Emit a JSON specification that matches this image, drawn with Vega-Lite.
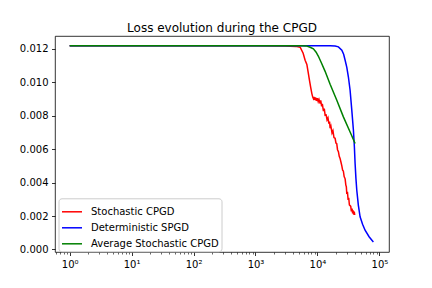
{
  "$schema": "https://vega.github.io/schema/vega-lite/v6.json",
  "width": 334,
  "height": 216,
  "autosize": "none",
  "padding": {"left": 55, "top": 36, "right": 43, "bottom": 36},
  "background": "white",
  "title": {"text": "Loss evolution during the CPGD", "font": "DejaVu Sans", "fontSize": 12, "fontWeight": "normal", "color": "black", "anchor": "middle", "offset": 6, "dy": 5},
  "config": {
    "view": {"stroke": "black", "strokeWidth": 0.8},
    "font": "DejaVu Sans"
  },
  "data": {"values": [
    {"series": "Stochastic CPGD", "x": 1, "y": 0.01217},
    {"series": "Stochastic CPGD", "x": 1000, "y": 0.01217},
    {"series": "Stochastic CPGD", "x": 3000, "y": 0.01216},
    {"series": "Stochastic CPGD", "x": 4500, "y": 0.01213},
    {"series": "Stochastic CPGD", "x": 5260, "y": 0.01208},
    {"series": "Stochastic CPGD", "x": 5880, "y": 0.01172},
    {"series": "Stochastic CPGD", "x": 6330, "y": 0.0113},
    {"series": "Stochastic CPGD", "x": 6750, "y": 0.01105},
    {"series": "Stochastic CPGD", "x": 7080, "y": 0.01059},
    {"series": "Stochastic CPGD", "x": 7430, "y": 0.01011},
    {"series": "Stochastic CPGD", "x": 7770, "y": 0.00969},
    {"series": "Stochastic CPGD", "x": 8130, "y": 0.00931},
    {"series": "Stochastic CPGD", "x": 8400, "y": 0.0091},
    {"series": "Stochastic CPGD", "x": 8610, "y": 0.00901},
    {"series": "Stochastic CPGD", "x": 8800, "y": 0.00912},
    {"series": "Stochastic CPGD", "x": 9000, "y": 0.00893},
    {"series": "Stochastic CPGD", "x": 9200, "y": 0.00908},
    {"series": "Stochastic CPGD", "x": 9400, "y": 0.0089},
    {"series": "Stochastic CPGD", "x": 9600, "y": 0.00905},
    {"series": "Stochastic CPGD", "x": 9770, "y": 0.00887},
    {"series": "Stochastic CPGD", "x": 10000, "y": 0.00903},
    {"series": "Stochastic CPGD", "x": 10300, "y": 0.00883},
    {"series": "Stochastic CPGD", "x": 10600, "y": 0.00896},
    {"series": "Stochastic CPGD", "x": 11060, "y": 0.00872},
    {"series": "Stochastic CPGD", "x": 11300, "y": 0.0089},
    {"series": "Stochastic CPGD", "x": 11700, "y": 0.00855},
    {"series": "Stochastic CPGD", "x": 12000, "y": 0.0087},
    {"series": "Stochastic CPGD", "x": 12500, "y": 0.00827},
    {"series": "Stochastic CPGD", "x": 12900, "y": 0.00842},
    {"series": "Stochastic CPGD", "x": 13300, "y": 0.00802},
    {"series": "Stochastic CPGD", "x": 13810, "y": 0.00804},
    {"series": "Stochastic CPGD", "x": 14300, "y": 0.00774},
    {"series": "Stochastic CPGD", "x": 14800, "y": 0.00786},
    {"series": "Stochastic CPGD", "x": 15300, "y": 0.00751},
    {"series": "Stochastic CPGD", "x": 15700, "y": 0.00764},
    {"series": "Stochastic CPGD", "x": 16020, "y": 0.00724},
    {"series": "Stochastic CPGD", "x": 16500, "y": 0.00737},
    {"series": "Stochastic CPGD", "x": 17200, "y": 0.00696},
    {"series": "Stochastic CPGD", "x": 17800, "y": 0.00709},
    {"series": "Stochastic CPGD", "x": 18500, "y": 0.00668},
    {"series": "Stochastic CPGD", "x": 19290, "y": 0.00664},
    {"series": "Stochastic CPGD", "x": 19900, "y": 0.00636},
    {"series": "Stochastic CPGD", "x": 20500, "y": 0.00632},
    {"series": "Stochastic CPGD", "x": 21100, "y": 0.00596},
    {"series": "Stochastic CPGD", "x": 21810, "y": 0.00584},
    {"series": "Stochastic CPGD", "x": 22500, "y": 0.00556},
    {"series": "Stochastic CPGD", "x": 23200, "y": 0.00544},
    {"series": "Stochastic CPGD", "x": 24000, "y": 0.00521},
    {"series": "Stochastic CPGD", "x": 24760, "y": 0.00499},
    {"series": "Stochastic CPGD", "x": 25500, "y": 0.00474},
    {"series": "Stochastic CPGD", "x": 26200, "y": 0.00469},
    {"series": "Stochastic CPGD", "x": 27000, "y": 0.00436},
    {"series": "Stochastic CPGD", "x": 28000, "y": 0.00422},
    {"series": "Stochastic CPGD", "x": 28700, "y": 0.00386},
    {"series": "Stochastic CPGD", "x": 29300, "y": 0.00374},
    {"series": "Stochastic CPGD", "x": 29800, "y": 0.00331},
    {"series": "Stochastic CPGD", "x": 30500, "y": 0.00344},
    {"series": "Stochastic CPGD", "x": 31300, "y": 0.00296},
    {"series": "Stochastic CPGD", "x": 32000, "y": 0.00309},
    {"series": "Stochastic CPGD", "x": 32800, "y": 0.00266},
    {"series": "Stochastic CPGD", "x": 33680, "y": 0.00262},
    {"series": "Stochastic CPGD", "x": 34500, "y": 0.00258},
    {"series": "Stochastic CPGD", "x": 35300, "y": 0.00228},
    {"series": "Stochastic CPGD", "x": 36200, "y": 0.00244},
    {"series": "Stochastic CPGD", "x": 37000, "y": 0.00216},
    {"series": "Stochastic CPGD", "x": 37640, "y": 0.00234},
    {"series": "Stochastic CPGD", "x": 38500, "y": 0.00208},
    {"series": "Stochastic CPGD", "x": 39300, "y": 0.00226},
    {"series": "Stochastic CPGD", "x": 40000, "y": 0.00206},
    {"series": "Deterministic SPGD", "x": 1, "y": 0.01217},
    {"series": "Deterministic SPGD", "x": 11060, "y": 0.01217},
    {"series": "Deterministic SPGD", "x": 16020, "y": 0.01217},
    {"series": "Deterministic SPGD", "x": 19290, "y": 0.01215},
    {"series": "Deterministic SPGD", "x": 21810, "y": 0.0121},
    {"series": "Deterministic SPGD", "x": 24760, "y": 0.0119},
    {"series": "Deterministic SPGD", "x": 26490, "y": 0.01166},
    {"series": "Deterministic SPGD", "x": 28000, "y": 0.0113},
    {"series": "Deterministic SPGD", "x": 29800, "y": 0.01088},
    {"series": "Deterministic SPGD", "x": 31620, "y": 0.0103},
    {"series": "Deterministic SPGD", "x": 33680, "y": 0.00951},
    {"series": "Deterministic SPGD", "x": 35860, "y": 0.00832},
    {"series": "Deterministic SPGD", "x": 38100, "y": 0.00712},
    {"series": "Deterministic SPGD", "x": 39520, "y": 0.00611},
    {"series": "Deterministic SPGD", "x": 40560, "y": 0.00513},
    {"series": "Deterministic SPGD", "x": 41800, "y": 0.00426},
    {"series": "Deterministic SPGD", "x": 43180, "y": 0.00354},
    {"series": "Deterministic SPGD", "x": 45800, "y": 0.00264},
    {"series": "Deterministic SPGD", "x": 48830, "y": 0.00195},
    {"series": "Deterministic SPGD", "x": 53550, "y": 0.00151},
    {"series": "Deterministic SPGD", "x": 58760, "y": 0.00115},
    {"series": "Deterministic SPGD", "x": 68200, "y": 0.00076},
    {"series": "Deterministic SPGD", "x": 80000, "y": 0.00045},
    {"series": "Average Stochastic CPGD", "x": 1, "y": 0.01217},
    {"series": "Average Stochastic CPGD", "x": 5260, "y": 0.01217},
    {"series": "Average Stochastic CPGD", "x": 6750, "y": 0.01215},
    {"series": "Average Stochastic CPGD", "x": 7620, "y": 0.01208},
    {"series": "Average Stochastic CPGD", "x": 8610, "y": 0.01198},
    {"series": "Average Stochastic CPGD", "x": 9520, "y": 0.01178},
    {"series": "Average Stochastic CPGD", "x": 10370, "y": 0.01154},
    {"series": "Average Stochastic CPGD", "x": 11470, "y": 0.01118},
    {"series": "Average Stochastic CPGD", "x": 13300, "y": 0.01064},
    {"series": "Average Stochastic CPGD", "x": 16020, "y": 0.00987},
    {"series": "Average Stochastic CPGD", "x": 20540, "y": 0.00891},
    {"series": "Average Stochastic CPGD", "x": 26240, "y": 0.00792},
    {"series": "Average Stochastic CPGD", "x": 33680, "y": 0.00702},
    {"series": "Average Stochastic CPGD", "x": 40560, "y": 0.00633}
  ]},
  "mark": {"type": "line", "strokeWidth": 1.5},
  "encoding": {
    "x": {
      "field": "x", "type": "quantitative",
      "scale": {"type": "log", "domain": [0.58, 143000], "nice": false},
      "axis": {
        "title": null, "grid": false, "domain": false,
        "values": [0.6, 0.7, 0.8, 0.9, 1, 2, 3, 4, 5, 6, 7, 8, 9, 10, 20, 30, 40, 50, 60, 70, 80, 90, 100, 200, 300, 400, 500, 600, 700, 800, 900, 1000, 2000, 3000, 4000, 5000, 6000, 7000, 8000, 9000, 10000, 20000, 30000, 40000, 50000, 60000, 70000, 80000, 90000, 100000],
        "labelExpr": "datum.value == 1 ? '10⁰' : datum.value == 10 ? '10¹' : datum.value == 100 ? '10²' : datum.value == 1000 ? '10³' : datum.value == 10000 ? '10⁴' : datum.value == 100000 ? '10⁵' : ''",
        "labelOverlap": false,
        "labelFlush": false,
        "labelFont": "DejaVu Sans", "labelFontSize": 10, "labelColor": "black",
        "labelPadding": 3.5,
        "tickColor": "black",
        "tickSize": {"condition": {"test": "indexof([1,10,100,1000,10000,100000], datum.value) >= 0", "value": 3.5}, "value": 2},
        "tickWidth": {"condition": {"test": "indexof([1,10,100,1000,10000,100000], datum.value) >= 0", "value": 0.8}, "value": 0.6}
      }
    },
    "y": {
      "field": "y", "type": "quantitative",
      "scale": {"domain": [-0.00015, 0.01275], "nice": false, "zero": false},
      "axis": {
        "title": null, "grid": false, "domain": false,
        "values": [0, 0.002, 0.004, 0.006, 0.008, 0.01, 0.012],
        "format": ".3f",
        "labelFont": "DejaVu Sans", "labelFontSize": 10, "labelColor": "black",
        "labelPadding": 3.5, "tickSize": 3.5, "tickWidth": 0.8, "tickColor": "black"
      }
    },
    "color": {
      "field": "series", "type": "nominal",
      "scale": {"domain": ["Stochastic CPGD", "Deterministic SPGD", "Average Stochastic CPGD"], "range": ["#ff0000", "#0000ff", "#008000"]},
      "legend": {
        "title": null, "orient": "none", "legendX": 3.5, "legendY": 162.3,
        "fillColor": "white", "strokeColor": "#cccccc", "cornerRadius": 3, "padding": 2.5,
        "labelFont": "DejaVu Sans", "labelFontSize": 10, "labelColor": "black",
        "symbolType": "stroke", "symbolSize": 400, "symbolStrokeWidth": 1.5,
        "rowPadding": -1, "labelOffset": 8
      }
    }
  }
}
